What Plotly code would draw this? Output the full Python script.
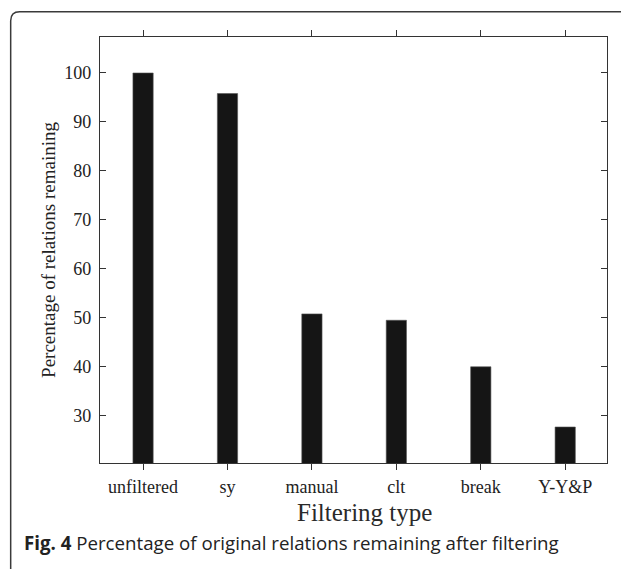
import plotly.graph_objects as go

categories = ["unfiltered", "sy", "manual", "clt", "break", "Y-Y&P"]
values = [100.0, 95.8, 50.8, 49.5, 40.0, 27.7]
y_ticks = [30, 40, 50, 60, 70, 80, 90, 100]

# page has an 8px body margin; work in page coords and subtract it
OFF = 8
W, H = 629 - OFF, 569 - OFF
L, R, T, B = 99.5 - OFF, 21.5, 37.3 - OFF, 105.7
pw, ph = W - L - R, H - T - B

def px(x):
    return (x - OFF - L) / pw

def py(y):
    return (H - B - (y - OFF)) / ph

fig = go.Figure()
fig.add_trace(go.Bar(
    x=list(range(len(categories))),
    y=values,
    width=0.24,
    marker=dict(color="#151515", line=dict(color="#555555", width=0.6)),
    base=0,
))

serif = "Liberation Serif"
axis_color = "#333333"

fig.update_layout(
    width=W, height=H,
    margin=dict(l=L, r=R, t=T, b=B, pad=0),
    paper_bgcolor="white", plot_bgcolor="white",
    showlegend=False,
    font=dict(family=serif, color="#222222", size=18),
    xaxis=dict(
        range=[-0.51, 5.495],
        tickmode="array", tickvals=list(range(len(categories))), ticktext=categories,
        ticks="outside", ticklen=6, tickwidth=1, tickcolor=axis_color,
        showline=True, linecolor=axis_color, linewidth=1.3, mirror="ticks",
        showgrid=False, zeroline=False,
        tickfont=dict(family=serif, size=18, color="#222222"),
        ticklabelstandoff=1,
    ),
    yaxis=dict(
        range=[20.35, 107.35],
        tickmode="array", tickvals=y_ticks,
        ticks="inside", ticklen=6, tickwidth=1, tickcolor=axis_color,
        showline=True, linecolor=axis_color, linewidth=1.3, mirror="ticks",
        showgrid=False, zeroline=False,
        tickfont=dict(family=serif, size=18, color="#222222"),
        ticklabelstandoff=4,
        title=dict(text="Percentage of relations remaining",
                   font=dict(family=serif, size=19, color="#222222"), standoff=3),
    ),
)

# x axis title
fig.add_annotation(
    text="Filtering type", xref="paper", yref="paper",
    x=px(364.5), y=py(513), xanchor="center", yanchor="middle",
    showarrow=False, font=dict(family=serif, size=25, color="#2a2a2a"),
)

# caption
fig.add_annotation(
    text="<b>Fig. 4</b> Percentage of original relations remaining after filtering",
    xref="paper", yref="paper",
    x=px(21), y=py(543), xanchor="left", yanchor="middle",
    showarrow=False, font=dict(family="Open Sans", size=18.7, color="#222222"),
)

# outer rounded frame (extends past right and bottom edges)
x0, y0, r = 10, 12, 9
x1, y1 = 660, 600
path = (f"M {px(x0)},{py(y1)} L {px(x0)},{py(y0 + r)} "
        f"Q {px(x0)},{py(y0)} {px(x0 + r)},{py(y0)} L {px(x1)},{py(y0)}")
fig.add_shape(type="path", path=path, xref="paper", yref="paper",
              line=dict(color="#3a3a3a", width=1.5), layer="above")

fig.write_html("out.html")
